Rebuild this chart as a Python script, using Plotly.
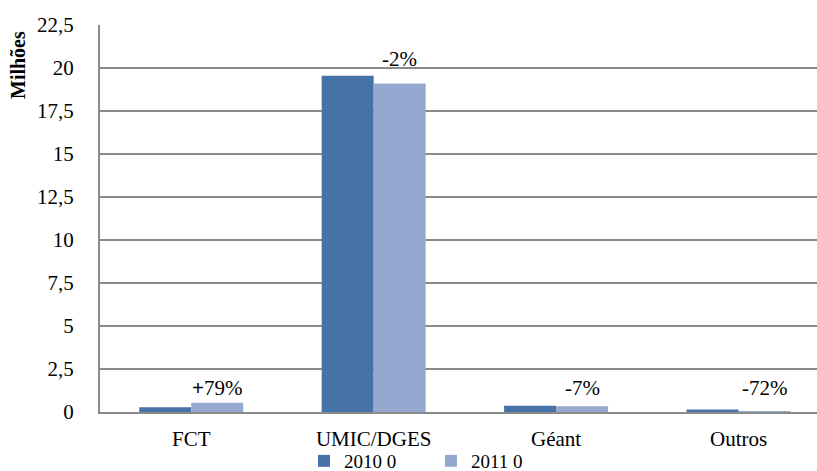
import plotly.graph_objects as go

categories = ["FCT", "UMIC/DGES", "Géant", "Outros"]
values_2010 = [0.28, 19.55, 0.36, 0.15]
values_2011 = [0.54, 19.1, 0.33, 0.04]
series_names = ["2010 0", "2011 0"]
change_labels = ["<b>+</b>79%", "-2%", "-7%", "-72%"]
y_ticks = [0, 2.5, 5, 7.5, 10, 12.5, 15, 17.5, 20, 22.5]

FONT = "Liberation Serif, Times New Roman, DejaVu Serif, serif"
C2010 = "#4572A7"
C2011 = "#95A9D0"
GRID = "#8a8a8a"
BARGAP = 0.43

fig = go.Figure()
fig.add_trace(go.Bar(x=categories, y=values_2010, name=series_names[0],
                     marker=dict(color=C2010, line=dict(width=0))))
fig.add_trace(go.Bar(x=categories, y=values_2011, name=series_names[1],
                     marker=dict(color=C2011, line=dict(width=0))))

# percentage-change labels above the 2011 bars
offset = (1 - BARGAP) / 4
for i, (v, lab) in enumerate(zip(values_2011, change_labels)):
    ypos = v + 1.45 if v > 1.4 else 1.4
    fig.add_annotation(x=i + offset, y=ypos, xref="x", yref="y", text=lab,
                       showarrow=False, yanchor="middle", xanchor="center",
                       font=dict(family=FONT, size=21, color="#000000"))

# axis title
fig.add_annotation(x=0, y=(412 - 65) / 387, xref="paper", yref="paper",
                   xshift=-82, text="<b>Milhões</b>", textangle=-90,
                   showarrow=False, xanchor="center", yanchor="middle",
                   font=dict(family=FONT, size=20, color="#000000"))

fig.update_layout(
    width=817, height=471,
    margin=dict(l=100, r=0, t=25, b=59, autoexpand=False),
    paper_bgcolor="white", plot_bgcolor="white",
    separators=",.",
    barmode="group", bargap=BARGAP, bargroupgap=0,
    font=dict(family=FONT, size=20, color="#000000"),
    showlegend=True,
    legend=dict(orientation="h", x=(304 - 100) / 717, xanchor="left",
                yref="container", y=(471 - 461) / 471, yanchor="middle",
                font=dict(family=FONT, size=19, color="#000000"),
                itemwidth=30, entrywidth=82, entrywidthmode="pixels",
                tracegroupgap=0, bgcolor="rgba(0,0,0,0)"),
    xaxis=dict(type="category", range=[-0.5, 3.43], showgrid=False,
               automargin=False,
               showline=True, linecolor=GRID, linewidth=2, ticks="",
               ticklabelstandoff=7,
               tickfont=dict(family=FONT, size=21, color="#000000")),
    yaxis=dict(range=[0, 22.5], tickvals=y_ticks, showgrid=True,
               automargin=False,
               gridcolor=GRID, gridwidth=1.5, zeroline=False,
               showline=True, linecolor=GRID, linewidth=2, ticks="",
               ticklabelstandoff=20,
               tickfont=dict(family=FONT, size=21, color="#000000")),
)

fig.write_html("out.html",
               config={"displayModeBar": False},
               post_script="document.body.style.margin='0';"
                           "document.body.style.overflow='hidden';")
